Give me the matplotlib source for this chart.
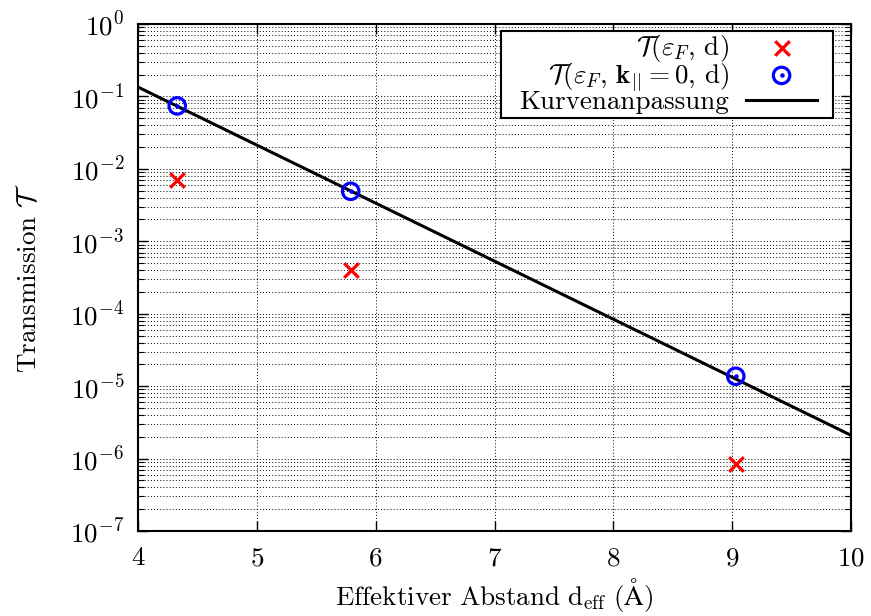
import numpy as np
import matplotlib
matplotlib.use("Agg")
import matplotlib.pyplot as plt
from matplotlib.ticker import LogLocator, NullFormatter, MultipleLocator
from matplotlib.legend_handler import HandlerTuple
from matplotlib.patches import Rectangle
from matplotlib.transforms import IdentityTransform

plt.rcParams.update({
    "font.family": "serif",
    "font.serif": ["cmr10", "DejaVu Serif"],
    "mathtext.fontset": "cm",
    "axes.formatter.use_mathtext": True,
    "font.size": 19.5,
})

# Effective distances (Angstrom)
d_eff = [4.33, 5.79, 9.03]
# Transmission at the Fermi energy, all k-points
trans_total = [7.0e-3, 4.0e-4, 8.3e-7]
# Transmission at the Fermi energy for k_parallel = 0
trans_k0 = [7.4e-2, 4.9e-3, 1.37e-5]
# Exponential fit T = A * exp(-kappa * d)
fit_A = 216.0
fit_kappa = 1.845

fig = plt.figure(figsize=(8.71, 6.16), dpi=100)
ax = fig.add_axes([138/871, 1 - 531/616, (851-138)/871, (531-24)/616])

d_fit = np.linspace(4, 10, 200)
line, = ax.plot(d_fit, fit_A * np.exp(-fit_kappa * d_fit), color="black", lw=2.2, zorder=3)

cross = ax.scatter(d_eff, trans_total, marker="x", s=110, color="red", linewidths=2.3, zorder=4)
circ = ax.scatter(d_eff, trans_k0, marker="o", s=140, facecolors="none",
                  edgecolors="blue", linewidths=2.3, zorder=4)
dot = ax.scatter(d_eff, trans_k0, marker="o", s=5, color="blue", zorder=5)

ax.set_yscale("log")
ax.set_xlim(4, 10)
ax.set_ylim(1e-7, 1e0)
ax.xaxis.set_major_locator(MultipleLocator(1))
ax.yaxis.set_major_locator(LogLocator(base=10, numticks=20))
ax.yaxis.set_minor_locator(LogLocator(base=10, subs=np.arange(2, 10), numticks=20))
ax.yaxis.set_minor_formatter(NullFormatter())

ax.tick_params(which="both", direction="in", top=True, right=True)
ax.tick_params(which="major", length=7, width=1)
ax.tick_params(which="minor", length=4, width=0.8)
ax.tick_params(axis="x", pad=11)
ax.tick_params(axis="y", pad=10)

grid_style = dict(color="black", lw=0.7, linestyle=(0, (1, 2.2)))
ax.grid(True, which="major", axis="both", **grid_style)
ax.grid(True, which="minor", axis="y", **grid_style)
ax.set_axisbelow(True)
for sp in ax.spines.values():
    sp.set_linewidth(1.5)

ax.set_xlabel(r"$\mathrm{Effektiver\ Abstand\ d_{eff}\ (\AA)}$", labelpad=4)
ax.set_ylabel(r"Transmission $\mathcal{T}$", labelpad=21)

leg = ax.legend(
    [cross, (circ, dot), line],
    [r"$\mathcal{T}(\varepsilon_F,\,\mathrm{d})$",
     r"$\mathcal{T}(\varepsilon_F,\,\mathbf{k}_{||}=0,\,\mathrm{d})$",
     "Kurvenanpassung"],
    handler_map={tuple: HandlerTuple(ndivide=1)},
    loc="upper right", bbox_to_anchor=(0.952, 0.982), markerfirst=False,
    frameon=False, handlelength=2.6, labelspacing=-0.1, borderpad=0,
    handletextpad=0.65, borderaxespad=0,
)
leg.set_zorder(6)

# Legend frame with wider side margins than top/bottom
fig.canvas.draw()
bb = leg.get_window_extent()
pad_l, pad_r, pad_t, pad_b = 18, 16, 2, 4
frame = Rectangle((bb.x0 - pad_l, bb.y0 - pad_b),
                  bb.width + pad_l + pad_r, bb.height + pad_t + pad_b,
                  transform=IdentityTransform(), facecolor="white",
                  edgecolor="black", linewidth=1.5, zorder=5.5)
ax.add_artist(frame)

fig.savefig("out.png", dpi=100)
